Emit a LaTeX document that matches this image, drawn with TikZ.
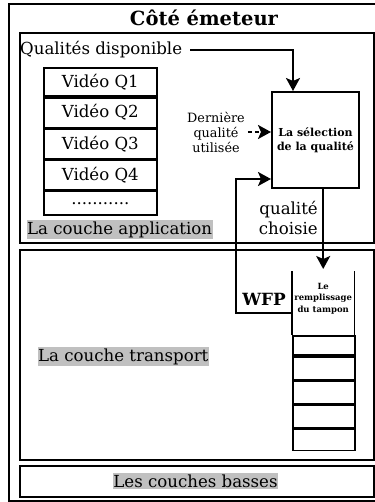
\documentclass[tikz,border=0pt]{standalone}
\usepackage{fontspec}
\setmainfont{DejaVu Serif}
\usetikzlibrary{arrows.meta,calc}
\definecolor{labelgray}{RGB}{192,192,192}
\tikzset{
  layer/.style={draw, line width=2pt, anchor=north west, minimum width=354pt, inner sep=0pt},
  row/.style={draw, line width=1.6pt, minimum width=113pt, inner sep=0pt, font=\fontsize{16.6}{18}\selectfont},
  slot/.style={draw, line width=1.6pt, minimum width=62pt, anchor=north west, inner sep=0pt},
  tag/.style={fill=labelgray, inner xsep=0.5pt, inner ysep=1.5pt, font=\fontsize{16.6}{18}\selectfont},
  arr/.style={line width=2pt, -{Stealth[length=13pt,width=14pt,inset=3pt]}},
  plain/.style={font=\fontsize{16.6}{20}\selectfont, inner sep=0pt},
}
\begin{document}
\begin{tikzpicture}[x=1pt,y=-1pt]
\useasboundingbox (0,0) rectangle (374,502);
% sender frame
\draw[line width=2pt] (9,4) rectangle (380,501);
\node[font=\bfseries\fontsize{19.5}{22}\selectfont] (title) at (204,18) {Côté émeteur};
% layers
\node[layer, minimum height=210pt] (app) at (19,32) {};
\node[layer, minimum height=210pt] (trans) at (19,249) {};
\node[layer, minimum height=31pt] (low) at (19,465) {};
\node[tag, anchor=west] (appl) at (26.5,229.5) {La couche application};
\node[tag, anchor=west] (transl) at (37.5,356.5) {La couche transport};
\node[tag] (lowl) at (195.5,481) {Les couches basses};
% available qualities
\node[plain, anchor=west] (qual) at (20,50) {Qualités disponible};
\node[row, anchor=north west, minimum height=28.5pt] (q1) at (43,67) {Vidéo Q1};
\node[row, anchor=north, minimum height=29.5pt] (q2) at (q1.south) {Vidéo Q2};
\node[row, anchor=north, minimum height=29.5pt] (q3) at (q2.south) {Vidéo Q3};
\node[row, anchor=north, minimum height=29.5pt] (q4) at (q3.south) {Vidéo Q4};
\node[row, anchor=north, minimum height=24pt] (q5) at (q4.south) {...........};
% quality selection
\node[draw, line width=2pt, anchor=north west, minimum width=87pt, minimum height=96pt,
      align=center, font=\bfseries\fontsize{11}{14}\selectfont] (sel) at (271,91)
      {La sélection\\de la qualité};
\node[align=center, inner sep=0pt, font=\fontsize{12.8}{15}\selectfont] (last) at (216,132)
      {Dernière\\qualité\\utilisée};
\draw[arr] ([xshift=8pt]qual.east) -| ($(sel.north west)+(22,0)$);
\draw[arr, dash pattern=on 4pt off 3pt] ([xshift=3pt]last.east) -- (last.east -| sel.west);
% buffer
\node[anchor=north west, minimum width=62pt, minimum height=64pt, inner sep=0pt] (buf) at (292,271) {};
\draw[line width=1.6pt] (buf.north west) -- (buf.south west) (buf.north east) -- (buf.south east);
\node[anchor=north, align=center, inner sep=0pt, font=\bfseries\fontsize{8.5}{11.5}\selectfont] (buftxt)
      at ([yshift=-12pt]buf.north) {Le\\remplissage\\du tampon};
\node[slot, minimum height=19pt] (s1) at (buf.south west) {};
\node[slot, minimum height=23pt] (s2) at (s1.south west) {};
\node[slot, minimum height=22pt] (s3) at (s2.south west) {};
\node[slot, minimum height=23pt] (s4) at (s3.south west) {};
\node[slot, minimum height=21pt] (s5) at (s4.south west) {};
% chosen quality towards the buffer
\draw[arr] (sel.south -| buftxt.north) -- ([yshift=2pt]buf.north);
\node[plain, anchor=east, align=right] (chosen) at (318,218) {qualité\\choisie};
% WFP feedback
\node[font=\bfseries\fontsize{16.8}{18}\selectfont, inner sep=0pt] (wfp) at (264,299) {WFP};
\coordinate (wfpin) at ($(buf.south west)+(0,-22)$);
\draw[arr] (wfpin) -- ++(-56,0) |- ($(sel.south west)+(0,-10)$);
\end{tikzpicture}
\end{document}
